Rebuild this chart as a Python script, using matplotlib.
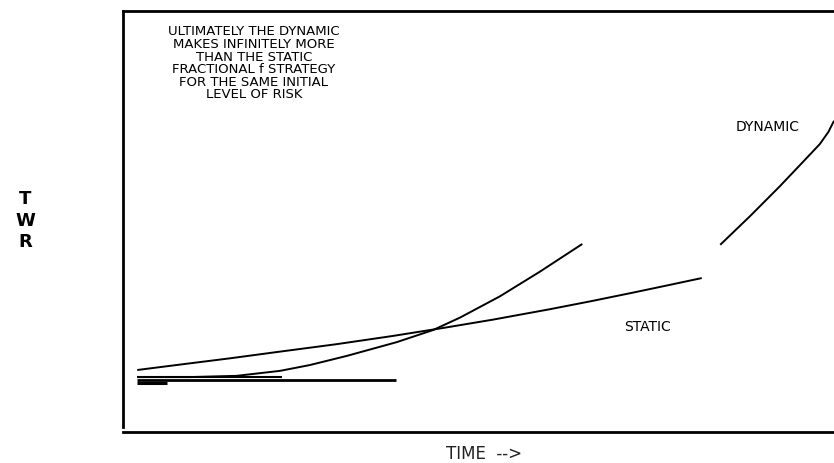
import numpy as np
import matplotlib.pyplot as plt

# TIME runs 0..100 across the frame, TWR 0..100 up the frame (no tick scale in the original)
static_t = [2, 8, 15, 22, 30, 38, 45, 52, 60, 66, 72, 77, 81.4]
static_twr = [13.7, 15.0, 16.5, 18.1, 19.9, 21.9, 23.8, 25.8, 28.3, 30.3, 32.4, 34.2, 35.8]

# the dynamic curve is broken in the scan, NaN keeps the gap
dynamic_t = [2, 9.4, 16.0, 22.1, 26.3, 31.5, 38.5, 43.6, 47.4, 53.0, 58.6, 64.6,
             np.nan, 84.0, 88.2, 92.4, 95.9, 98.0, 99.2, 100]
dynamic_twr = [12.0, 12.0, 12.3, 13.5, 14.9, 17.1, 20.4, 23.3, 26.3, 31.4, 37.3, 44.0,
               np.nan, 43.8, 50.7, 57.9, 64.2, 68.0, 70.9, 73.6]

# flat starting-level lines at bottom left
base_short_t = [2, 22.4]
base_short_twr = [12.0, 12.0]
base_long_t = [2, 38.4]
base_long_twr = [11.3, 11.3]
smudge_t = [2, 6.2]
smudge_twr = [10.6, 10.6]

note_lines = ['ULTIMATELY THE DYNAMIC', 'MAKES INFINITELY MORE', 'THAN THE STATIC',
              'FRACTIONAL f STRATEGY', 'FOR THE SAME INITIAL', 'LEVEL OF RISK']


fig = plt.figure(figsize=(8.34, 4.64), dpi=100)
ax = fig.add_axes([123 / 834, 1 - 428 / 464, 1 - 123 / 834, (428 - 12) / 464])

ax.plot(static_t, static_twr, color='black', lw=1.4, solid_capstyle='butt')
ax.plot(dynamic_t, dynamic_twr, color='black', lw=1.4, solid_capstyle='butt')
ax.plot(base_short_t, base_short_twr, color='black', lw=1.5, solid_capstyle='butt')
ax.plot(base_long_t, base_long_twr, color='black', lw=2.0, solid_capstyle='butt')
ax.plot(smudge_t, smudge_twr, color='black', lw=2.2, solid_capstyle='butt')

ax.set_xlim(0, 100)
ax.set_ylim(0, 100)
ax.set_xticks([])
ax.set_yticks([])
ax.spines['right'].set_visible(False)
for side in ['left', 'top', 'bottom']:
    ax.spines[side].set_linewidth(2.0)
ax.spines['bottom'].set_position(('outward', 3.6))

ax.text(18.4, 96.8, '\n'.join(note_lines), ha='center', va='top', multialignment='center',
        fontsize=9.5, linespacing=0.96, family='DejaVu Sans')
ax.text(90.7, 72.4, 'DYNAMIC', ha='center', va='center', fontsize=10)
ax.text(73.8, 24.3, 'STATIC', ha='center', va='center', fontsize=10)

fig.text(25 / 834, 1 - 221 / 464, 'T\nW\nR', ha='center', va='center', multialignment='center',
         fontsize=13, fontweight='bold', linespacing=1.25)
fig.text(484 / 834, 1 / 464, 'TIME  -->', ha='center', va='bottom', fontsize=12, color='#222222')

fig.savefig('out.png', dpi=100)
